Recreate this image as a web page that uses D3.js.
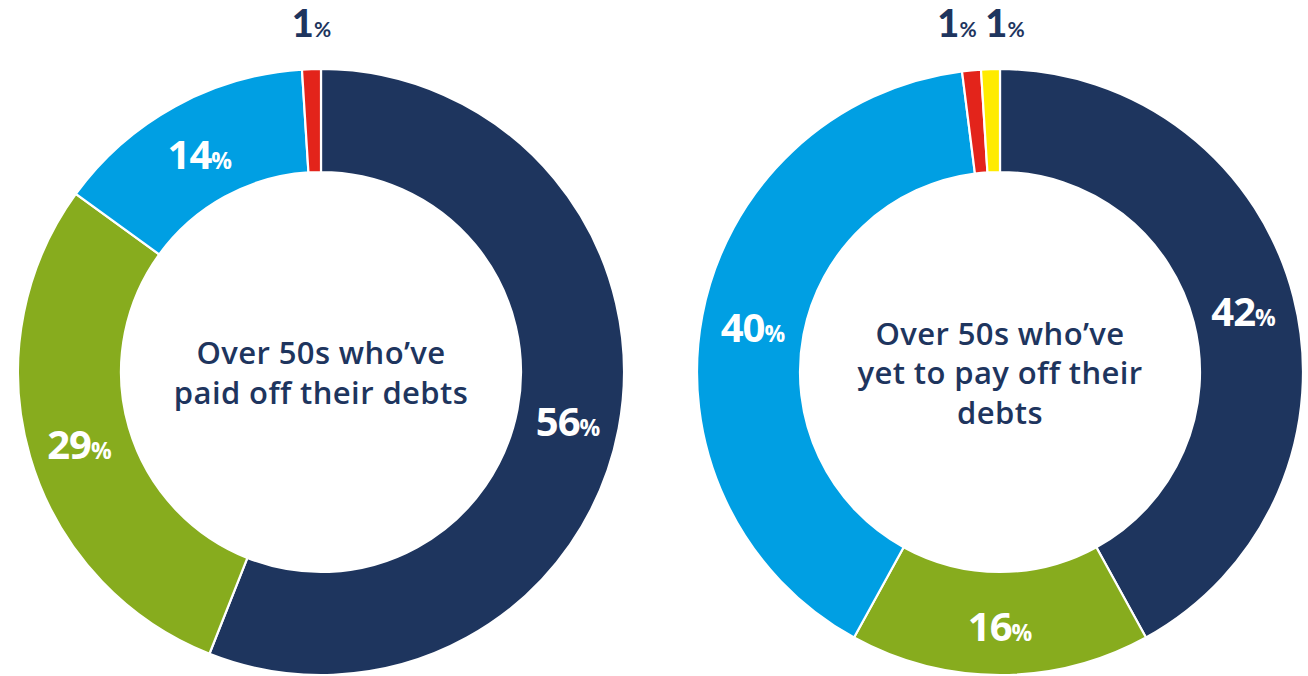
<!DOCTYPE html>
<html>
<head>
<meta charset="utf-8">
<script src="https://cdn.jsdelivr.net/npm/d3@7/dist/d3.min.js"></script>
<style>
  html, body { margin: 0; padding: 0; background: #ffffff; }
  svg { display: block; }
  text { font-family: "Open Sans", Lato, sans-serif; font-weight: 700; }
  text.title { font-weight: 600; letter-spacing: 0.4px; }
  text.outlbl { font-family: Lato, "Open Sans", sans-serif; font-weight: 900; }
</style>
</head>
<body>
<svg id="chart" width="1308" height="676"></svg>
<script>
// Debt status of over 50s: share by category, clockwise from 12 o'clock
const categories = ["Navy", "Green", "Blue", "Red", "Yellow"];
const paidOffValues = [56, 29, 14, 1, 0];
const yetToPayValues = [42, 16, 40, 1, 1];
const colors = ["#1e355e", "#87ac1e", "#009fe3", "#e3241b", "#ffeb00"];
const titles = [
  ["Over 50s who\u2019ve", "paid off their debts"],
  ["Over 50s who\u2019ve", "yet to pay off their", "debts"]
];

const svg = d3.select("#chart");
const outerR = 303, innerR = 200;
const centers = [[321, 372], [1000, 372]];
const textColor = "#1e355e";

const colorScale = d3.scaleOrdinal().domain(categories).range(colors);
const pie = d3.pie().sort(null).value(d => d.value);
const arc = d3.arc().innerRadius(innerR).outerRadius(outerR);

function drawDonut(values, center, titleLines) {
  const data = categories.map((c, i) => ({ cat: c, value: values[i] })).filter(d => d.value > 0);
  const arcs = pie(data);
  const g = svg.append("g").attr("transform", `translate(${center[0]},${center[1]})`);

  g.selectAll("path.slice")
    .data(arcs)
    .join("path")
    .attr("class", "slice")
    .attr("d", arc)
    .attr("fill", d => colorScale(d.data.cat))
    .attr("stroke", "#ffffff")
    .attr("stroke-width", 2.2);

  // Large slices: label inside the ring at the centroid
  const inside = arcs.filter(d => d.data.value >= 5);
  const insideLbl = g.selectAll("text.inlbl")
    .data(inside)
    .join("text")
    .attr("class", "inlbl")
    .attr("fill", "#ffffff")
    .attr("text-anchor", "middle")
    .attr("transform", d => {
      const [x, y] = arc.centroid(d);
      return `translate(${x},${y + 17})`;
    });
  insideLbl.append("tspan").attr("font-size", 40).attr("letter-spacing", -1).text(d => d.data.value);
  insideLbl.append("tspan").attr("font-size", 23).text("%");

  // Small slices: labels in a row above the ring
  const outside = arcs.filter(d => d.data.value < 5);
  const spacing = 48;
  const xs = outside.map(d => outerR * Math.sin((d.startAngle + d.endAngle) / 2));
  const meanX = d3.mean(xs);
  const outLbl = g.selectAll("text.outlbl")
    .data(outside)
    .join("text")
    .attr("class", "outlbl")
    .attr("fill", textColor)
    .attr("text-anchor", "middle")
    .attr("x", (d, i) => meanX + (i - (outside.length - 1) / 2) * spacing)
    .attr("y", -335);
  outLbl.append("tspan").attr("font-size", 38).text(d => d.data.value);
  outLbl.append("tspan").attr("font-size", 21).attr("font-weight", 700).text("%");

  // Centre title
  const lh = 39.5;
  const t = g.append("text")
    .attr("class", "title")
    .attr("fill", textColor)
    .attr("text-anchor", "middle")
    .attr("font-size", 31);
  titleLines.forEach((line, i) => {
    t.append("tspan")
      .attr("x", 0)
      .attr("y", (i - (titleLines.length - 1) / 2) * lh + 12)
      .text(line);
  });
}

drawDonut(paidOffValues, centers[0], titles[0]);
drawDonut(yetToPayValues, centers[1], titles[1]);
</script>
</body>
</html>
